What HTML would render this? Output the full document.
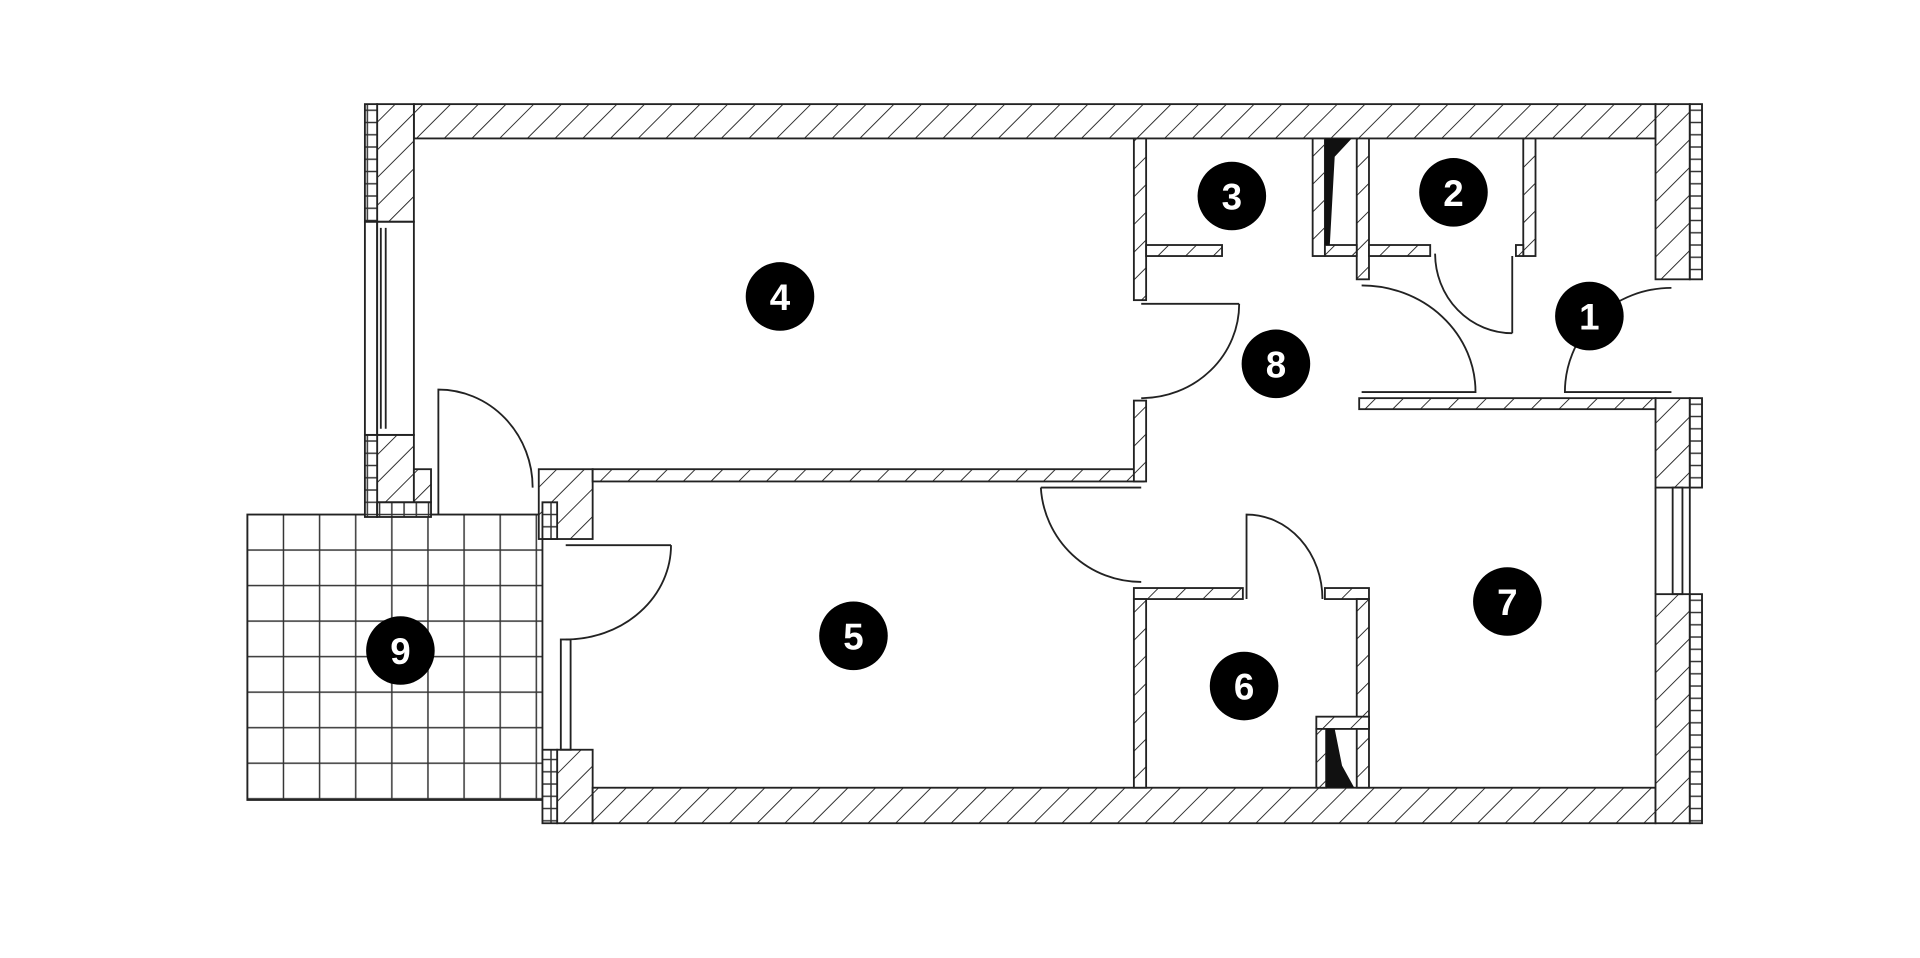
<!DOCTYPE html>
<html><head><meta charset="utf-8"><style>
html,body{margin:0;padding:0;background:#fff;}
svg{display:block;}
text{font-family:"Liberation Sans",sans-serif;font-weight:bold;font-size:30px;fill:#fff;text-anchor:middle;}
</style></head><body>
<svg width="1920" height="958" viewBox="0 0 1568 782" preserveAspectRatio="none" xmlns="http://www.w3.org/2000/svg">
<defs>
<pattern id="h" patternUnits="userSpaceOnUse" width="16" height="16" patternTransform="rotate(45)">
<rect width="16" height="16" fill="#fff"/><line x1="0" y1="0" x2="0" y2="16" stroke="#222" stroke-width="1.5"/>
</pattern>
<pattern id="b" patternUnits="userSpaceOnUse" width="10" height="10">
<rect width="10" height="10" fill="#fff" stroke="#333" stroke-width="1.2"/>
</pattern>
<pattern id="g" patternUnits="userSpaceOnUse" x="202" y="420" width="29.5" height="29">
<rect width="29.5" height="29" fill="#fff" stroke="#333" stroke-width="1.2"/>
</pattern>
</defs>
<g stroke="#222" stroke-width="1.5">
<rect x="202" y="420" width="241" height="233" fill="url(#g)"/>
<g fill="url(#h)">
<rect x="338" y="85" width="1014" height="28"/>
<rect x="308" y="85" width="30" height="96"/>
<rect x="1352" y="85" width="28" height="143"/>
<rect x="308" y="355" width="30" height="55"/>
<rect x="338" y="383" width="14" height="27"/>
<rect x="440" y="383" width="44" height="57"/>
<rect x="484" y="383" width="450" height="10"/>
<rect x="455" y="612" width="29" height="60"/>
<rect x="484" y="643" width="868" height="29"/>
<rect x="1352" y="325" width="28" height="73"/>
<rect x="1352" y="485" width="28" height="187"/>
<rect x="926" y="113" width="10" height="132"/>
<rect x="926" y="327" width="10" height="66"/>
<rect x="936" y="200" width="62" height="9"/>
<rect x="1072" y="113" width="10" height="96"/>
<rect x="1108" y="113" width="10" height="115"/>
<rect x="1082" y="200" width="26" height="9"/>
<rect x="1118" y="200" width="50" height="9"/>
<rect x="1244" y="113" width="10" height="96"/>
<rect x="1238" y="200" width="6" height="9"/>
<rect x="1110" y="325" width="242" height="9"/>
<rect x="926" y="480" width="89" height="9"/>
<rect x="926" y="489" width="10" height="154"/>
<rect x="1082" y="480" width="36" height="9"/>
<rect x="1108" y="489" width="10" height="154"/>
<rect x="1075" y="585" width="43" height="10"/>
<rect x="1075" y="595" width="8" height="48"/>
</g>
<g fill="url(#b)">
<rect x="298" y="85" width="10" height="96"/>
<rect x="298" y="355" width="10" height="67"/>
<rect x="308" y="410" width="44" height="12"/>
<rect x="443" y="410" width="12" height="30"/>
<rect x="443" y="612" width="12" height="60"/>
<rect x="1380" y="85" width="10" height="143"/>
<rect x="1380" y="325" width="10" height="73"/>
<rect x="1380" y="485" width="10" height="187"/>
</g>
<g fill="none">
<rect x="298" y="181" width="10" height="174"/>
<rect x="308" y="181" width="30" height="174"/>
<line x1="311" y1="186" x2="311" y2="350"/><line x1="315" y1="186" x2="315" y2="350"/>
<rect x="458" y="522" width="8" height="90"/>
<rect x="1366" y="398" width="8" height="87"/>
<line x1="1352" y1="398" x2="1352" y2="485"/><line x1="1380" y1="398" x2="1380" y2="485"/>
<path d="M358 420 V318 A77 80 0 0 1 435 398"/>
<path d="M1012 248 H932 M1012 248 A80 77 0 0 1 932 325"/>
<path d="M548 445 H462 M548 445 A86 77 0 0 1 462 522"/>
<path d="M850 398 H932 M850 398 A82 82 0 0 0 932 475"/>
<path d="M1018 489 V420 A62 69 0 0 1 1080 489"/>
<path d="M1235 209 V272 M1172 207 A63 65 0 0 0 1235 272"/>
<path d="M1112 233 A93 87 0 0 1 1205 320 H1112"/>
<path d="M1365 235 A87 85 0 0 0 1278 320 H1365"/>
</g>
<path d="M1082 113 H1104 L1090 128 L1086 200 H1082 Z" fill="#111" stroke="none"/>
<path d="M1083 595 H1090 L1096 625 L1106 643 H1083 Z" fill="#111" stroke="none"/>
</g>
<g fill="#000">
<circle cx="1298" cy="258" r="28"/><circle cx="1187" cy="157" r="28"/><circle cx="1006" cy="160" r="28"/>
<circle cx="637" cy="242" r="28"/><circle cx="697" cy="519" r="28"/><circle cx="1016" cy="560" r="28"/>
<circle cx="1231" cy="491" r="28"/><circle cx="1042" cy="297" r="28"/><circle cx="327" cy="531" r="28"/>
</g>
<text x="1298" y="269">1</text><text x="1187" y="168">2</text><text x="1006" y="171">3</text>
<text x="637" y="253">4</text><text x="697" y="530">5</text><text x="1016" y="571">6</text>
<text x="1231" y="502">7</text><text x="1042" y="308">8</text><text x="327" y="542">9</text>
</svg>
</body></html>
